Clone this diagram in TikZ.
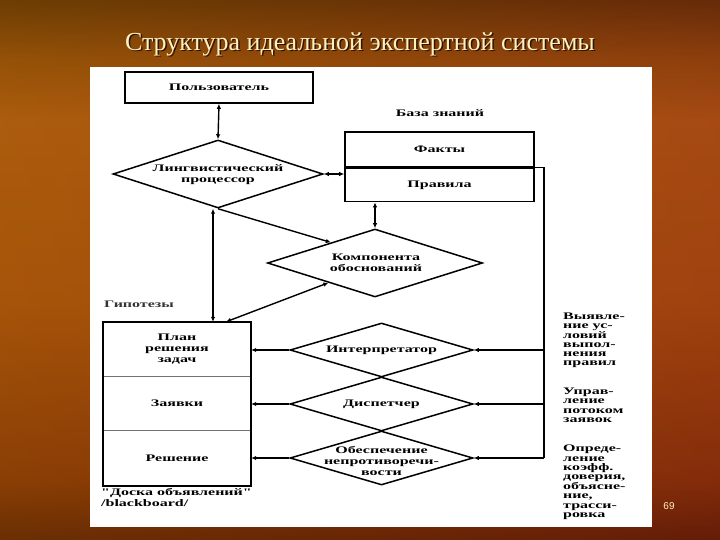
\documentclass[tikz,border=0pt]{standalone}
\usepackage{fontspec}
\setmainfont{Liberation Serif}
\newfontfamily\scanfont[FakeStretch=1.6]{Liberation Serif}
\newfontfamily\pgnfont{Liberation Sans}
\usetikzlibrary{shapes.geometric,arrows.meta,calc}
\definecolor{bgtop}{HTML}{5E3006}
\definecolor{bgA}{HTML}{9A4E0C}
\definecolor{bgB}{HTML}{BC5E14}
\definecolor{bgC}{HTML}{B4520F}
\definecolor{bgD}{HTML}{8A3208}
\definecolor{bgbot}{HTML}{5A1A04}
\definecolor{titlecol}{HTML}{FFF0BC}
\definecolor{titleshadow}{HTML}{2E1404}
\pgfdeclareverticalshading{slidebg}{100bp}{color(0bp)=(bgbot); color(25bp)=(bgbot); color(30.6bp)=(bgD); color(47.2bp)=(bgC); color(63.9bp)=(bgB); color(69.4bp)=(bgA); color(75bp)=(bgtop); color(100bp)=(bgtop)}
\tikzset{
  lbl/.style={font=\scanfont\bfseries\fontsize{10}{11}\selectfont, align=center, inner sep=0pt},
  rlbl/.style={font=\scanfont\bfseries\fontsize{10}{9.2}\selectfont, align=left, inner sep=0pt, anchor=north west},
  box/.style={draw, line width=1.6pt, rectangle, inner sep=0pt, lbl},
  cell/.style={rectangle, inner sep=0pt, lbl},
  dmd/.style={draw, diamond, line width=1.5pt, inner sep=0pt},
  arr/.style={line width=1.4pt, -{Latex[length=5pt,width=4.5pt]}},
  darr/.style={line width=1.4pt, {Latex[length=5pt,width=4.5pt]}-{Latex[length=5pt,width=4.5pt]}},
  plain/.style={line width=1.4pt},
}
\begin{document}
\begin{tikzpicture}[x=1pt,y=-1pt]
\useasboundingbox (0,0) rectangle (720,540);
% background
\shade[shading=slidebg] (0,0) rectangle (720,540);
\fill[left color=orange!70!yellow, right color=red!50!brown, opacity=0.18] (0,0) rectangle (720,540);
% title
\node[font=\fontsize{26}{30}\selectfont, text=titleshadow] (titleshadow) at (361.5,45.5) {Структура идеальной экспертной системы};
\node[font=\fontsize{26}{30}\selectfont, text=titlecol] (title) at (360,44) {Структура идеальной экспертной системы};
% panel
\fill[white] (90,67) rectangle (652,527);
% boxes
\node[box, minimum width=188pt, minimum height=31pt] (user) at (219,87.5) {Пользователь};
\node[lbl] (kblabel) at (440,113) {База знаний};
\node[box, minimum width=189pt, minimum height=35pt] (facts) at (439.5,149.5) {Факты};
\node[box, minimum width=189pt, minimum height=33pt, anchor=north] (rules) at (facts.south) {Правила};
% diamonds (shape) and their texts
\node[dmd, minimum width=210pt, minimum height=68pt] (ling) at (218,174) {};
\node[lbl] (lingT) at (218,175) {Лингвистический\\процессор};
\node[dmd, minimum width=215pt, minimum height=68pt] (comp) at (375,263) {};
\node[lbl] (compT) at (376,263) {Компонента\\обоснований};
\node[dmd, minimum width=183pt, minimum height=54pt] (interp) at (381.5,350) {};
\node[lbl] (interpT) at (381.5,350) {Интерпретатор};
\node[dmd, minimum width=183pt, minimum height=54pt] (disp) at (381.5,404) {};
\node[lbl] (dispT) at (381.5,404) {Диспетчер};
\node[dmd, minimum width=183pt, minimum height=54pt] (cons) at (381.5,458) {};
\node[lbl] (consT) at (381.5,461) {Обеспечение\\непротиворечи-\\вости};
% blackboard
\node[cell, minimum width=148pt, minimum height=54pt] (plan) at (177,349) {План\\решения\\задач};
\node[cell, minimum width=148pt, minimum height=54pt, anchor=north] (req) at (plan.south) {Заявки};
\node[cell, minimum width=148pt, minimum height=55pt, anchor=north] (sol) at (req.south) {Решение};
\draw[line width=1pt, black!55] (plan.south west) -- (plan.south east);
\draw[line width=1pt, black!55] (req.south west) -- (req.south east);
\draw[line width=1.8pt] (plan.north west) rectangle (sol.south east);
\node[lbl, anchor=west, text=black!80] (hyp) at (104,304) {Гипотезы};
\node[lbl, anchor=north west, align=left] (bbl) at (101,488) {"Доска объявлений"\\/blackboard/};
\node[rlbl] (r1) at (563,313) {Выявле-\\ние ус-\\ловий\\выпол-\\нения\\правил};
\node[rlbl] (r2) at (563,388) {Управ-\\ление\\потоком\\заявок};
\node[rlbl] (r3) at (563,445) {Опреде-\\ление\\коэфф.\\доверия,\\объясне-\\ние,\\трасси-\\ровка};
% connectors
\draw[darr] (user.south) -- (ling.north);
\draw[darr] (ling.east) -- (ling.east -| rules.west);
\draw[darr] (comp.north |- rules.south) -- (comp.north);
\draw[arr] (ling.south) -- (comp.155);
\draw[darr] (comp.203) -- ([xshift=49pt]plan.north);
\draw[darr] ([xshift=-5pt]ling.south) -- ([xshift=36pt]plan.north);
\coordinate (fb) at ($(facts.south east)+(9,0)$);
\draw[plain] (facts.south east) -- (fb) -- (fb |- cons.east);
\draw[arr] (fb |- interp.east) -- (interp.east);
\draw[arr] (fb |- disp.east) -- (disp.east);
\draw[arr] (fb |- cons.east) -- (cons.east);
\draw[arr] (interp.west) -- (interp.west -| plan.east);
\draw[arr] (disp.west) -- (disp.west -| req.east);
\draw[arr] (cons.west) -- (cons.west -| sol.east);
% page number
\node[font=\pgnfont\fontsize{10}{12}\selectfont, text=titlecol] (pg) at (669,506) {69};
\end{tikzpicture}
\end{document}
